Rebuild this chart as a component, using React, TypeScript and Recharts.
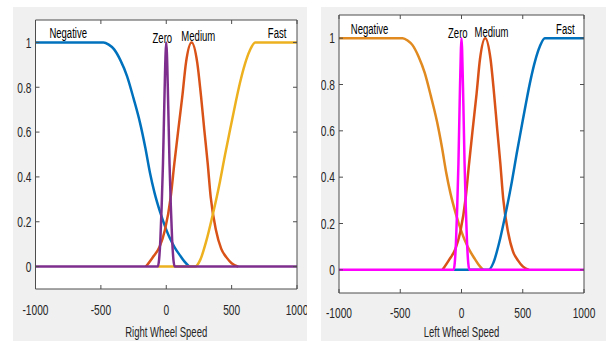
import { LineChart, Line, XAxis, YAxis, CartesianGrid, ReferenceDot } from "recharts";

// membership curves (x = wheel speed, y = degree)
const negativeX = [-1000, -480, -440, -400, -350, -300, -250, -200, -160, -125, -90, -48, 0, 28, 65, 105, 140, 176];
const negativeY = [1, 1, 0.99, 0.97, 0.92, 0.85, 0.75, 0.64, 0.53, 0.42, 0.33, 0.245, 0.165, 0.126, 0.085, 0.05, 0.022, 0];

const zeroX = [-1000, -65, -55, -45, -35, -25, -15, -5, 0, 5, 15, 25, 35, 45, 55, 65, 1000];
const zeroY = [0, 0, 0.03, 0.12, 0.27, 0.46, 0.72, 0.95, 1, 0.95, 0.72, 0.46, 0.27, 0.12, 0.03, 0, 0];

const mediumX = [-155, -100, -50, -10, 34, 62, 92, 123, 151, 194, 237, 266, 291, 317, 340, 380, 420, 462, 500, 551];
const mediumY = [0, 0.044, 0.09, 0.163, 0.31, 0.46, 0.61, 0.76, 0.91, 1, 0.91, 0.76, 0.61, 0.46, 0.31, 0.163, 0.08, 0.04, 0.015, 0];

const fastX = [-65, 220, 260, 309, 347, 411, 450, 488, 530, 564, 600, 640, 680, 1000];
const fastY = [0, 0, 0.03, 0.12, 0.21, 0.38, 0.5, 0.61, 0.73, 0.82, 0.9, 0.965, 1, 1];

const speedTicks = [-1000, -500, 0, 500, 1000];
const degreeTicks = [0, 0.2, 0.4, 0.6, 0.8, 1];

const mfNames = ["Negative", "Zero", "Medium", "Fast"];
const nameSpots = [
  { x: -750, y: 1.04 },
  { x: -30, y: 1.02 },
  { x: 245, y: 1.025 },
  { x: 848, y: 1.04 },
];

const toPoints = (xs: number[], ys: number[]) => xs.map((x, i) => ({ x, y: ys[i] }));

const negative = toPoints(negativeX, negativeY);
const zero = toPoints(zeroX, zeroY);
const medium = toPoints(mediumX, mediumY);
const fast = toPoints(fastX, fastY);

const FONT = '"Liberation Sans", Arial, sans-serif';
const AXIS = "#4d4d4d";
const TEXT = "#262626";
const SQUASH = 0.68;

const BottomTick = ({ x, y, payload, dy }: any) => (
  <g>
    <line x1={x} y1={y} x2={x} y2={y - 4} stroke={AXIS} />
    <text
      transform={`translate(${x},${y + dy}) scale(${SQUASH},1)`}
      textAnchor="middle"
      dominantBaseline="central"
      fontFamily={FONT}
      fontSize={15}
      fill={TEXT}
    >
      {payload.value}
    </text>
  </g>
);

const TopTick = ({ x, y }: any) => <line x1={x} y1={y} x2={x} y2={y + 4} stroke={AXIS} />;

const LeftTick = ({ x, y, payload }: any) => (
  <g>
    <line x1={x} y1={y} x2={x + 4} y2={y} stroke={AXIS} />
    <text
      transform={`translate(${x - 4},${y}) scale(${SQUASH},1)`}
      textAnchor="end"
      dominantBaseline="central"
      fontFamily={FONT}
      fontSize={15}
      fill={TEXT}
    >
      {payload.value}
    </text>
  </g>
);

const RightTick = ({ x, y }: any) => <line x1={x} y1={y} x2={x - 4} y2={y} stroke={AXIS} />;

interface PanelProps {
  left: number;
  width: number;
  box: { top: number; right: number; bottom: number; left: number };
  colors: string[];
  title: string;
  tickDy: number;
  titleDy: number;
}

function Panel({ left, width, box, colors, title, tickDy, titleDy }: PanelProps) {
  const height = 334;
  const series = [negative, zero, medium, fast];
  // MATLAB draw order: Negative, Medium, Fast, then Zero on top
  const order = [0, 2, 3, 1];
  return (
    <div style={{ position: "absolute", left, top: 7, width, height, background: "#f0f0f0" }}>
      <LineChart width={width} height={height} margin={{ top: 0, right: 0, bottom: 0, left: 0 }}>
        <CartesianGrid horizontal={false} vertical={false} fill="#ffffff" />
        <XAxis
          dataKey="x"
          type="number"
          domain={[-1000, 1000]}
          ticks={speedTicks}
          interval={0}
          allowDataOverflow
          height={box.bottom}
          tickSize={0}
          tickMargin={0}
          tickLine={false}
          axisLine={{ stroke: AXIS }}
          tick={<BottomTick dy={tickDy} />}
          label={{
            content: (p: any) => (
              <text
                transform={`translate(${p.viewBox.x + p.viewBox.width / 2},${p.viewBox.y + titleDy}) scale(${SQUASH},1)`}
                textAnchor="middle"
                dominantBaseline="central"
                fontFamily={FONT}
                fontSize={14}
                fill={TEXT}
              >
                {title}
              </text>
            ),
          }}
        />
        <XAxis
          xAxisId="top"
          orientation="top"
          dataKey="x"
          type="number"
          domain={[-1000, 1000]}
          ticks={speedTicks}
          interval={0}
          allowDataOverflow
          height={box.top}
          tickSize={0}
          tickMargin={0}
          tickLine={false}
          axisLine={{ stroke: AXIS }}
          tick={<TopTick />}
        />
        <YAxis
          type="number"
          domain={[-0.1, 1.1]}
          ticks={degreeTicks}
          interval={0}
          allowDataOverflow
          width={box.left}
          tickSize={0}
          tickMargin={0}
          tickLine={false}
          axisLine={{ stroke: AXIS }}
          tick={<LeftTick />}
        />
        <YAxis
          yAxisId="right"
          orientation="right"
          type="number"
          domain={[-0.1, 1.1]}
          ticks={degreeTicks}
          interval={0}
          allowDataOverflow
          width={box.right}
          tickSize={0}
          tickMargin={0}
          tickLine={false}
          axisLine={{ stroke: AXIS }}
          tick={<RightTick />}
        />
        {order.map((i) => (
          <Line
            key={mfNames[i]}
            data={series[i]}
            dataKey="y"
            type="monotone"
            stroke={colors[i]}
            strokeWidth={2.5}
            dot={false}
            isAnimationActive={false}
          />
        ))}
        {mfNames.map((name, i) => (
          <ReferenceDot
            key={name}
            x={nameSpots[i].x}
            y={nameSpots[i].y}
            r={0}
            shape={(p: any) => (
              <text
                transform={`translate(${p.cx},${p.cy}) scale(${SQUASH},1)`}
                textAnchor="middle"
                dominantBaseline="central"
                fontFamily={FONT}
                fontSize={14}
                fill="#000"
              >
                {name}
              </text>
            )}
          />
        ))}
      </LineChart>
    </div>
  );
}

export default function App() {
  return (
    <div style={{ position: "absolute", left: 0, top: 0, width: 606, height: 341, background: "#fff", overflow: "hidden" }}>
      <Panel
        left={13}
        width={294}
        box={{ top: 13, right: 10, bottom: 52, left: 22.5 }}
        colors={["#0072BD", "#7E2F8E", "#D95319", "#EDB120"]}
        title="Right Wheel Speed"
        tickDy={21}
        titleDy={43}
      />
      <Panel
        left={321}
        width={285}
        box={{ top: 8, right: 22, bottom: 48, left: 18 }}
        colors={["#E08A1F", "#FF00FF", "#D95319", "#0072BD"]}
        title="Left Wheel Speed"
        tickDy={20}
        titleDy={39}
      />
    </div>
  );
}
